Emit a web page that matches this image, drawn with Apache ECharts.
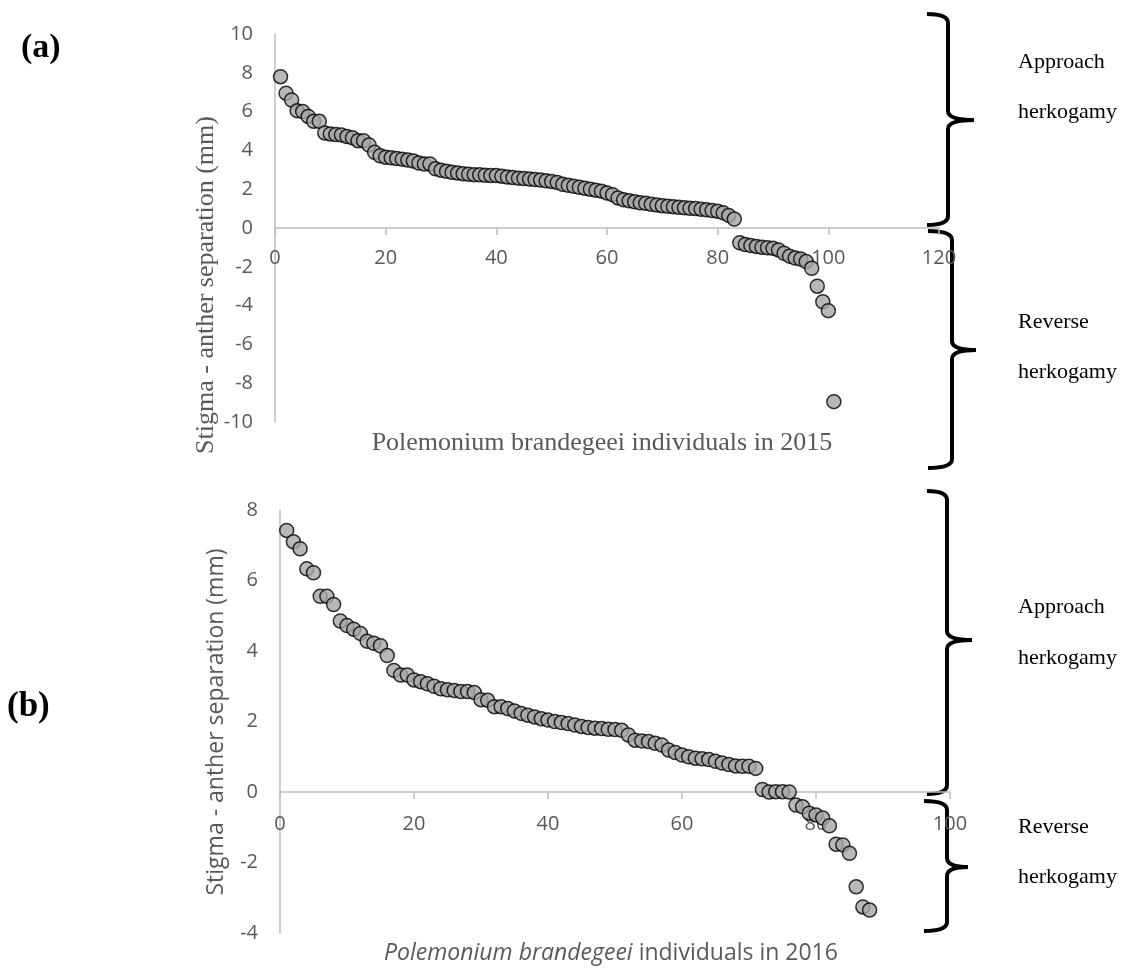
<!DOCTYPE html>
<html>
<head>
<meta charset="utf-8">
<script src="https://cdn.jsdelivr.net/npm/echarts@6/dist/echarts.min.js"></script>
<style>
  html, body { margin: 0; padding: 0; background: #fff; }
  #chart { width: 1133px; height: 968px; }
</style>
</head>
<body>
<div id="chart"></div>
<script>
// 2015: stigma - anther separation, ranked individuals 1..101
const valuesA = [
  7.8, 6.95, 6.6, 6.05, 6.0, 5.75, 5.5, 5.5, 4.9, 4.85,
  4.82, 4.8, 4.72, 4.65, 4.5, 4.5, 4.28, 3.9, 3.72, 3.65,
  3.62, 3.58, 3.55, 3.5, 3.45, 3.35, 3.3, 3.3, 3.05, 2.98,
  2.92, 2.87, 2.83, 2.8, 2.77, 2.75, 2.74, 2.72, 2.71, 2.7,
  2.67, 2.63, 2.6, 2.57, 2.55, 2.52, 2.5, 2.47, 2.43, 2.4,
  2.35, 2.25, 2.2, 2.15, 2.1, 2.05, 2.0, 1.95, 1.9, 1.8,
  1.72, 1.55, 1.45, 1.4, 1.35, 1.3, 1.27, 1.22, 1.18, 1.15,
  1.12, 1.1, 1.07, 1.04, 1.02, 1.0, 0.97, 0.94, 0.9, 0.86,
  0.78, 0.65, 0.46,
  -0.76, -0.85, -0.9, -0.95, -0.99, -1.02, -1.05, -1.13, -1.3, -1.45,
  -1.55, -1.6, -1.73, -2.08, -3.0, -3.8, -4.26, -8.95
];

// 2016: ranked individuals 1..88
const valuesB = [
  7.42, 7.1, 6.9, 6.33, 6.22, 5.55, 5.55, 5.32, 4.85, 4.72,
  4.62, 4.5, 4.28, 4.22, 4.15, 3.87, 3.45, 3.32, 3.32, 3.18,
  3.13, 3.07, 3.0, 2.93, 2.9, 2.88, 2.85, 2.85, 2.82, 2.62,
  2.6, 2.42, 2.42, 2.37, 2.3, 2.23, 2.18, 2.13, 2.08, 2.04,
  2.0, 1.97, 1.94, 1.9, 1.86, 1.83, 1.81, 1.8, 1.78, 1.77,
  1.75, 1.62, 1.47, 1.45, 1.43, 1.38, 1.33, 1.19, 1.12, 1.05,
  1.0, 0.96, 0.94, 0.92, 0.87, 0.82, 0.78, 0.74, 0.73, 0.73,
  0.67, 0.07, 0.0, 0.01, 0.01, 0.0, -0.37, -0.42, -0.6, -0.65,
  -0.74, -0.96, -1.48, -1.5, -1.74, -2.69, -3.26, -3.35
];

const yTitle = 'Stigma - anther separation (mm)';
const xTitleA = 'Polemonium brandegeei individuals in 2015';
const bracesText = [['Approach', 'herkogamy'], ['Reverse', 'herkogamy']];

const axisGrey = '#bfbfbf';
const labelGrey = '#595959';

function ranked(values) {
  return values.map((v, i) => [i + 1, v]);
}

// curly brace opening to the left, tip pointing right, made of lines + curves
function brace(xv, y0, y1, ym, xl, xt) {
  const r = 9;
  const st = { stroke: '#000', lineWidth: 4, fill: null };
  const curve = (x1, y1, cx, cy, x2, y2) => ({
    type: 'bezierCurve', shape: { x1, y1, cpx1: cx, cpy1: cy, x2, y2 }, style: st
  });
  const line = (x1, y1, x2, y2) => ({ type: 'line', shape: { x1, y1, x2, y2 }, style: st });
  return [
    curve(xl, y0, xv, y0, xv, y0 + r),
    line(xv, y0 + r, xv, ym - r),
    curve(xv, ym - r, xv, ym, xt, ym),
    curve(xt, ym, xv, ym, xv, ym + r),
    line(xv, ym + r, xv, y1 - r),
    curve(xv, y1 - r, xv, y1, xl, y1)
  ];
}

// x axis drawn at y = 0: pulled up from the grid bottom with a negative offset
function xAxisOf(gridIndex, max, offset, margin) {
  return {
    gridIndex, type: 'value', min: 0, max, interval: 20, offset,
    splitLine: { show: false },
    axisLine: { onZero: false, lineStyle: { color: axisGrey, width: 1.5 } },
    axisTick: { show: true, length: 7, inside: false, lineStyle: { color: axisGrey, width: 1.5 } },
    axisLabel: { color: labelGrey, fontFamily: 'Open Sans', fontSize: 20, margin }
  };
}

function yAxisOf(gridIndex, min, max) {
  return {
    gridIndex, type: 'value', min, max, interval: 2,
    splitLine: { show: false },
    axisLine: { show: true, onZero: false, lineStyle: { color: axisGrey, width: 1.5 } },
    axisTick: { show: false },
    axisLabel: { color: labelGrey, fontFamily: 'Open Sans', fontSize: 20, margin: 22 }
  };
}

const markStyle = { color: '#a6a6a6', borderColor: '#000', borderWidth: 1.5 };

const graphic = [
  { type: 'text', x: 21, y: 48, style: { text: '(a)', font: 'bold 34px "Liberation Serif"', fill: '#000', verticalAlign: 'middle' } },
  { type: 'text', x: 7, y: 707, style: { text: '(b)', font: 'bold 35px "Liberation Serif"', fill: '#000', verticalAlign: 'middle' } },
  { type: 'text', x: 206, y: 285, rotation: Math.PI / 2,
    style: { text: yTitle, font: '26px "Liberation Serif"', fill: labelGrey, align: 'center', verticalAlign: 'middle' } },
  { type: 'text', x: 602, y: 443,
    style: { text: xTitleA, font: '26px "Liberation Serif"', fill: labelGrey, align: 'center', verticalAlign: 'middle' } },
  { type: 'text', x: 216, y: 722, rotation: Math.PI / 2,
    style: { text: yTitle, font: '23px "Open Sans"', fill: labelGrey, align: 'center', verticalAlign: 'middle' } },
  { type: 'text', x: 611, y: 953,
    style: {
      text: '{i|Polemonium brandegeei} individuals in 2016',
      font: '23px "Open Sans"', fill: labelGrey, align: 'center', verticalAlign: 'middle',
      rich: { i: { fontStyle: 'italic', fontFamily: 'Open Sans', fontSize: 23, fill: labelGrey } }
    } }
].concat(
  brace(948, 14, 225, 120, 927, 974),
  brace(952, 231, 468, 350, 928, 976),
  brace(947, 491, 794, 640, 927, 972),
  brace(947, 801, 931, 867, 924, 968)
);

const braceLabelY = [[62, 112], [322, 372], [607, 658], [827, 877]];
braceLabelY.forEach((ys, k) => {
  const words = bracesText[k % 2];
  ys.forEach((y, j) => {
    graphic.push({ type: 'text', x: 1018, y,
      style: { text: words[j], font: '22px "Liberation Serif"', fill: '#000', verticalAlign: 'middle' } });
  });
});

const chart = echarts.init(document.getElementById('chart'));
chart.setOption({
  backgroundColor: '#fff',
  animation: false,
  grid: [
    { left: 275, right: 194, top: 34, bottom: 546 },
    { left: 280, right: 183, top: 510, bottom: 35 }
  ],
  xAxis: [xAxisOf(0, 120, -194, 20), xAxisOf(1, 100, -141, 22)],
  yAxis: [yAxisOf(0, -10, 10), yAxisOf(1, -4, 8)],
  series: [
    { type: 'scatter', xAxisIndex: 0, yAxisIndex: 0, data: ranked(valuesA), symbolSize: 14, itemStyle: markStyle },
    { type: 'scatter', xAxisIndex: 1, yAxisIndex: 1, data: ranked(valuesB), symbolSize: 14, itemStyle: markStyle }
  ],
  graphic
});
</script>
</body>
</html>
